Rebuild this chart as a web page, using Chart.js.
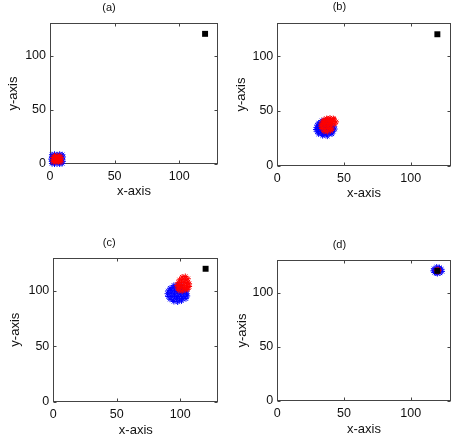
<!DOCTYPE html>
<html><head><meta charset="utf-8">
<script src="https://cdn.jsdelivr.net/npm/chart.js@4.4.0/dist/chart.umd.min.js"></script>
<style>
html,body{margin:0;padding:0;background:#fff;width:457px;height:438px;overflow:hidden}
.p{position:absolute}
</style></head><body>
<div class="p" style="left:0;top:0"><canvas id="ca" width="228" height="210"></canvas></div>
<div class="p" style="left:228px;top:0"><canvas id="cb" width="229" height="210"></canvas></div>
<div class="p" style="left:0;top:220px"><canvas id="cc" width="228" height="218"></canvas></div>
<div class="p" style="left:228px;top:220px"><canvas id="cd" width="229" height="218"></canvas></div>
<script>
const panelTitles = ['(a)', '(b)', '(c)', '(d)'];
const xTicks = [0, 50, 100];
const yTicks = [0, 50, 100];
const axisRange = [0, 130];
const xLabel = 'x-axis';
const yLabel = 'y-axis';
const target = [[120, 120]];

const aBlue = [[1.5,0.5],[3.5,0],[5.5,0.5],[7.5,0],[9.5,0.5],[1.5,2.5],[10,2.5],[1,4.5],[9.5,4.5],[1.5,6.5],[10,6.5],[1.5,8.5],[3.5,9],[5.5,8.5],[7.5,9],[9.5,8.5],[3.5,2.5],[5.5,2.5],[7.5,2.5],[3.5,4.5],[5.5,4.5],[7.5,4.5],[3.5,6.5],[5.5,6.5],[7.5,6.5]];
const aRed = [[2.5,2],[4.5,2],[6.5,2],[8.5,2],[2.5,4],[4.5,4],[6.5,4],[8.5,4],[2.5,6],[4.5,6],[6.5,6],[8.5,6],[3.5,7.5],[5.5,7.5],[7.5,7.5],[3.5,3],[5.5,5],[7.5,3]];

const bBlue = [[34,27.5],[37.5,27],[31,29],[33,29.5],[35,28.5],[37,29],[39,29.5],[41,29],[30,31],[32,31.5],[34,30.5],[36,31],[38,31.5],[40,31],[42,31.5],[29,33],[31,33.5],[33,32.5],[35,33],[37,33.5],[39,33],[41,33],[43,33.5],[29.5,35],[31,35.5],[33,35],[35,35.5],[37,35],[39,35.5],[41,35],[42.5,35.5],[30,37],[32,37.5],[34,37],[36,37.5],[38,37],[40,37.5],[31,39],[33,39.5],[35,39],[37,39.5],[39,39],[33.5,41],[36,41.5]];
const bRed = [[35,31.5],[37.5,31],[40,32],[33.5,34],[36,33.5],[38.5,34],[41,33.5],[33,36],[35.5,36.5],[38,36],[40.5,36.5],[33,38],[35.5,38.5],[38,38],[40.5,38.5],[43,38],[34,40],[36.5,40.5],[39,40],[41.5,40.5],[44,40],[35,42],[37.5,42.5],[40,42],[42.5,42.5],[37,43],[39.5,43.5],[42,43]];

const cBlue = [[95,90.5],[98,90],[101,91],[92,92.5],[94.5,92],[97,93],[99.5,92.5],[102,93],[104.5,93],[90.5,95],[93,95],[95.5,95.5],[98,95],[100.5,95.5],[103,95],[105.5,95.5],[90,97.5],[92.5,98],[95,97.5],[97.5,98],[100,97.5],[102.5,98],[105,97.5],[90.5,100],[93,100.5],[95.5,100],[98,100.5],[100.5,100],[103,100.5],[105,100],[92,102.5],[94.5,103],[97,102.5],[99.5,103],[102,102.5],[95,105],[98,105.5],[100.5,105]];
const cRed = [[99,100.5],[101.5,100],[104,101],[106,101.5],[98,102.5],[100.5,103],[103,102.5],[105.5,103],[107,104],[97.5,105],[100,105.5],[102.5,105],[105,105.5],[107,106.5],[98.5,107.5],[101,108],[103.5,107.5],[106,108],[99.5,110],[102,110.5],[104.5,110],[106,111],[101.5,112.5],[104,113]];

const dBlue = [[118,118.5],[120,117.5],[122,118],[123.5,119.5],[123,121.5],[121.5,123],[119.5,123.5],[117.5,122],[117,120],[119,119],[121,119],[122,120.5],[120.5,121.5],[118.5,121],[120,120.5],[119,118],[121.5,122]];
const dRed = [[120,120],[121,120.5],[120.5,119.5],[119.5,120.5],[120.5,121]];

const blueSets = [aBlue, bBlue, cBlue, dBlue];
const redSets = [aRed, bRed, cRed, dRed];

// layout geometry (canvas-local pixels)
const geo = [
  {id:'ca', W:228, H:210, l:50, r:218, t:23, b:164, ty:7.7, xt:191.7, yt:13.3},
  {id:'cb', W:229, H:210, l:49.3, r:222.7, t:23.3, b:165.7, ty:7.3, xt:193.3, yt:13.3},
  {id:'cc', W:228, H:218, l:53.3, r:218.3, t:37.7, b:181.7, ty:22.7, xt:210, yt:15},
  {id:'cd', W:229, H:218, l:49.3, r:222.7, t:40, b:181, ty:25, xt:209.3, yt:14}
];

const frame = {
  id: 'frame',
  beforeDatasetsDraw(chart) {
    const {ctx, chartArea: a, scales: {x, y}} = chart;
    ctx.save();
    ctx.strokeStyle = '#444';
    ctx.lineWidth = 1;
    const L = Math.round(a.left) + 0.5, R = Math.round(a.right) - 0.5;
    const T = Math.round(a.top) + 0.5, B = Math.round(a.bottom) - 0.5;
    ctx.strokeRect(L, T, R - L, B - T);
    ctx.beginPath();
    xTicks.forEach(v => {
      const px = Math.round(x.getPixelForValue(v)) + 0.5;
      ctx.moveTo(px, B); ctx.lineTo(px, B - 3);
      ctx.moveTo(px, T); ctx.lineTo(px, T + 3);
    });
    yTicks.forEach(v => {
      const py = Math.round(y.getPixelForValue(v)) + 0.5;
      ctx.moveTo(L, py); ctx.lineTo(L + 3, py);
      ctx.moveTo(R, py); ctx.lineTo(R - 3, py);
    });
    ctx.stroke();
    ctx.restore();
  }
};

const FONT = "'Liberation Sans', Arial, Helvetica, sans-serif";
Chart.defaults.font.family = FONT;
Chart.defaults.color = '#111';

geo.forEach((g, i) => {
  new Chart(document.getElementById(g.id), {
    type: 'scatter',
    data: {
      datasets: [
        {data: target, pointStyle: 'rect', pointRadius: 4.2, backgroundColor: '#000', borderColor: '#000', borderWidth: 0, clip: false},
        {data: redSets[i], pointStyle: 'star', pointRadius: 3, borderColor: '#ff0000', backgroundColor: '#ff0000', borderWidth: 1, clip: false},
        {data: blueSets[i], pointStyle: 'star', pointRadius: 3, borderColor: '#0000ff', backgroundColor: '#0000ff', borderWidth: 1, clip: false}
      ]
    },
    options: {
      responsive: false,
      animation: false,
      events: [],
      layout: {padding: {left: 0, top: 0, bottom: 0, right: g.W - g.r}},
      plugins: {
        legend: {display: false},
        tooltip: {enabled: false},
        title: {
          display: true, text: panelTitles[i], color: '#111',
          font: {size: 11, weight: 'normal'},
          padding: {top: g.ty - 6.6, bottom: g.t - 13.2 - (g.ty - 6.6)}
        }
      },
      scales: {
        x: {
          type: 'linear', min: axisRange[0], max: axisRange[1],
          afterBuildTicks: s => { s.ticks = xTicks.map(v => ({value: v})); },
          afterFit: s => { s.height = g.H - g.b; },
          grid: {display: false, drawTicks: false},
          border: {display: false},
          ticks: {padding: 5.5, font: {size: 12.5}, color: '#111'},
          title: {display: true, text: xLabel, font: {size: 13}, color: '#111', padding: {top: 0, bottom: g.H - g.xt - 7.8}}
        },
        y: {
          type: 'linear', min: axisRange[0], max: axisRange[1],
          afterBuildTicks: s => { s.ticks = yTicks.map(v => ({value: v})); },
          afterFit: s => { s.width = g.l; },
          grid: {display: false, drawTicks: false},
          border: {display: false},
          ticks: {padding: 4, font: {size: 12.5}, color: '#111'},
          title: {display: true, text: yLabel, font: {size: 13}, color: '#111', padding: {top: g.yt - 7.8, bottom: 0}}
        }
      }
    },
    plugins: [frame]
  });
});
</script>
</body></html>
